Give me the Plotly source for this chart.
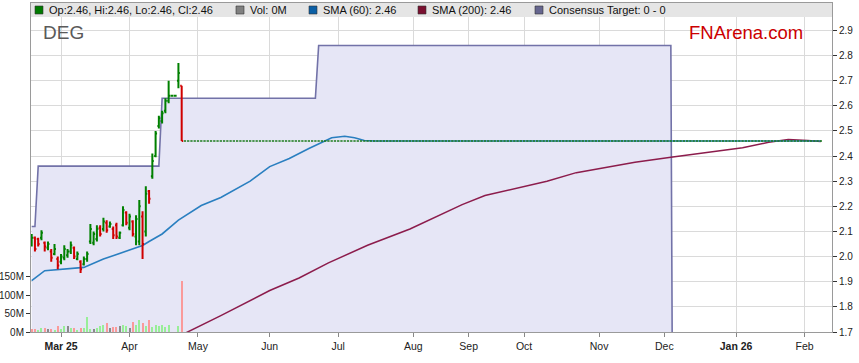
import pandas as pd
import plotly.graph_objects as go

# ---------------- data ----------------
# days with no data point on the chart's time axis (besides weekends)
missing_days = ['2025-04-25', '2025-08-11', '2025-08-12', '2025-08-13', '2025-08-14',
                '2025-09-15', '2025-09-16', '2025-09-17', '2025-09-18', '2025-09-19',
                '2025-12-25', '2026-01-26']

bar_dates = [d.strftime('%Y-%m-%d') for d in pd.bdate_range('2025-02-18', '2025-04-23')]
bar_open = [2.055, 2.075, 2.07, 2.075, 2.055, 2.035, 2.02, 2.01, 1.99, 1.98,
            1.995, 2.005, 2.02, 2.035, 1.99, 1.98, 1.97, 1.99, 2.06, 2.055,
            2.07, 2.115, 2.11, 2.135, 2.12, 2.11, 2.125, 2.075, 2.125, 2.175,
            2.115, 2.14, 2.08, 2.06, 2.16, 2.10, 2.26, 2.32, 2.40, 2.52,
            2.54, 2.58, 2.62, 2.64, 2.64, 2.70, 2.68]
bar_high = [2.09, 2.08, 2.075, 2.105, 2.06, 2.06, 2.03, 2.05, 2.00, 2.01,
            2.045, 2.03, 2.06, 2.04, 2.02, 1.985, 2.00, 2.02, 2.13, 2.10,
            2.125, 2.125, 2.155, 2.145, 2.14, 2.12, 2.135, 2.10, 2.20, 2.18,
            2.17, 2.145, 2.165, 2.225, 2.18, 2.28, 2.265, 2.41, 2.50, 2.56,
            2.58, 2.63, 2.70, 2.64, 2.64, 2.77, 2.68]
bar_low = [2.04, 2.02, 2.04, 2.065, 2.02, 2.025, 1.98, 2.005, 1.95, 1.97,
           1.985, 1.995, 2.01, 1.99, 1.985, 1.935, 1.965, 1.98, 2.05, 2.045,
           2.06, 2.08, 2.10, 2.095, 2.115, 2.07, 2.07, 2.07, 2.12, 2.125,
           2.105, 2.08, 2.045, 2.045, 1.99, 2.08, 2.21, 2.31, 2.395, 2.51,
           2.53, 2.57, 2.61, 2.64, 2.64, 2.67, 2.46]
bar_close = [2.075, 2.03, 2.05, 2.095, 2.04, 2.05, 1.995, 2.03, 1.965, 2.00,
             2.03, 2.02, 2.045, 2.00, 2.01, 1.95, 1.99, 2.01, 2.11, 2.09,
             2.11, 2.09, 2.14, 2.105, 2.13, 2.085, 2.08, 2.095, 2.185, 2.135,
             2.16, 2.09, 2.15, 2.20, 2.05, 2.25, 2.23, 2.38, 2.49, 2.55,
             2.57, 2.62, 2.64, 2.64, 2.64, 2.73, 2.46]

# volume in millions, with bar colour class
vol_m = [7, 7, 4.5, 10, 10, 7, 7, 4, 15, 7,
         15, 15, 10, 10, 5, 10, 12, 40, 7, 7,
         10, 15, 18, 24, 10, 13, 13, 15, 18, 15,
         10, 26, 18, 32, 24, 15, 32, 13, 18, 15,
         18, 13, 20, 0, 0, 15, 139]
vol_dir = ['d', 'd', 'u', 'u', 'd', 'n', 'd', 'u', 'd', 'u',
           'u', 'n', 'u', 'd', 'u', 'd', 'u', 'u', 'u', 'n',
           'u', 'u', 'u', 'd', 'n', 'd', 'd', 'n', 'u', 'u',
           'n', 'd', 'u', 'u', 'd', 'u', 'd', 'u', 'u', 'u',
           'u', 'u', 'u', 'u', 'u', 'u', 'd']

# flat quotes after the last trade
flat_start, flat_end, flat_price = '2025-04-24', '2026-02-09', 2.46

sma60_dates = ['2025-02-18', '2025-02-24', '2025-03-12', '2025-03-17', '2025-03-20',
               '2025-04-01', '2025-04-07', '2025-04-09', '2025-04-15', '2025-04-22',
               '2025-04-29', '2025-05-02', '2025-05-12', '2025-05-23', '2025-06-02',
               '2025-06-10', '2025-06-18', '2025-06-27', '2025-07-03', '2025-07-08',
               '2025-07-11', '2025-07-16', '2026-02-09']
sma60_vals = [1.904, 1.944, 1.957, 1.975, 1.99,
              2.026, 2.044, 2.06, 2.09, 2.145,
              2.178, 2.203, 2.235, 2.30, 2.358,
              2.39, 2.43, 2.473, 2.479, 2.473,
              2.462, 2.46, 2.46]

sma200_dates = ['2025-03-31', '2025-05-12', '2025-06-02', '2025-06-13', '2025-06-26',
                '2025-07-14', '2025-07-31', '2025-08-18', '2025-08-28', '2025-09-08',
                '2025-09-26', '2025-10-10', '2025-10-23', '2025-11-10', '2025-11-18',
                '2025-12-03', '2026-01-05', '2026-01-15', '2026-01-23', '2026-02-03',
                '2026-02-09']
sma200_vals = [1.58, 1.765, 1.865, 1.915, 1.975,
               2.045, 2.11, 2.16, 2.207, 2.243,
               2.27, 2.30, 2.334, 2.36, 2.375,
               2.395, 2.433, 2.455, 2.466, 2.462,
               2.458]

target_dates = ['2025-02-18', '2025-02-19', '2025-02-20', '2025-04-14', '2025-04-15',
                '2025-06-20', '2025-06-23', '2025-12-03', '2025-12-04', '2026-02-09']
target_vals = [2.12, 2.12, 2.36, 2.36, 2.63, 2.63, 2.84, 2.84, 0, 0]

price_ticks = [1.7, 1.8, 1.9, 2.0, 2.1, 2.2, 2.3, 2.4, 2.5, 2.6, 2.7, 2.8, 2.9]
vol_ticks = [0, 50, 100, 150]
month_ticks = ['2025-03-03', '2025-04-01', '2025-05-01', '2025-06-02', '2025-07-01',
               '2025-08-01', '2025-09-01', '2025-10-01', '2025-11-03', '2025-12-01',
               '2026-01-01', '2026-02-02']
month_labels = ['<b>Mar 25</b>', 'Apr', 'May', 'Jun', 'Jul', 'Aug', 'Sep', 'Oct', 'Nov',
                'Dec', '<b>Jan 26</b>', 'Feb']

legend_items = [('Op:2.46, Hi:2.46, Lo:2.46, Cl:2.46', '#007a00', 35),
                ('Vol: 0M', '#808080', 236),
                ('SMA (60): 2.46', '#0b5fa5', 309),
                ('SMA (200): 2.46', '#7a1030', 418),
                ('Consensus Target: 0 - 0', '#66668f', 535)]

# ---------------- figure ----------------
W, H = 859, 363
ML, MR, MT, MB = 31, 27, 3, 31
PW, PH = W - ML - MR, H - MT - MB
PRICE_RANGE = [1.7, 3.009]
FONT = 'Liberation Sans, Arial, sans-serif'

missing_set = set(missing_days)
flat_dates = [d.strftime('%Y-%m-%d') for d in pd.bdate_range(flat_start, flat_end)
              if d.strftime('%Y-%m-%d') not in missing_set]
vol_colors = {'u': '#98ee98', 'd': '#fa9a9a', 'n': '#8a8a8a'}

fig = go.Figure()

# consensus target area on the base price axis (drawn underneath)
fig.add_trace(go.Scatter(x=target_dates, y=target_vals, mode='lines',
                         line=dict(color='#7272a8', width=1.6),
                         fill='tozeroy', fillcolor='#e6e6f6', yaxis='y'))
# volume on the left axis
fig.add_trace(go.Bar(x=bar_dates, y=[v * 1e6 for v in vol_m],
                     marker=dict(color=[vol_colors[c] for c in vol_dir], line=dict(width=0)),
                     width=0.62 * 86400000, yaxis='y2'))
# moving averages on an overlaid copy of the price axis
fig.add_trace(go.Scatter(x=sma200_dates, y=sma200_vals, mode='lines',
                         line=dict(color='#8c1c4c', width=1.5), yaxis='y3'))
fig.add_trace(go.Scatter(x=sma60_dates, y=sma60_vals, mode='lines',
                         line=dict(color='#2a7fc0', width=1.6), yaxis='y3'))
# price bars on the top-most copy of the price axis
fig.add_trace(go.Ohlc(x=flat_dates, open=[flat_price] * len(flat_dates),
                      high=[flat_price] * len(flat_dates), low=[flat_price] * len(flat_dates),
                      close=[flat_price] * len(flat_dates), tickwidth=0.35,
                      increasing=dict(line=dict(color='#1a7a1a', width=1.6)),
                      decreasing=dict(line=dict(color='#1a7a1a', width=1.6)), yaxis='y4'))
fig.add_trace(go.Ohlc(x=bar_dates, open=bar_open, high=bar_high, low=bar_low, close=bar_close,
                      tickwidth=0.45,
                      increasing=dict(line=dict(color='#008000', width=2)),
                      decreasing=dict(line=dict(color='#d00000', width=2)), yaxis='y4'))

tick_font = dict(family=FONT, size=10, color='#222222')
hidden_price = dict(range=PRICE_RANGE, overlaying='y', side='right', visible=False,
                    showgrid=False, zeroline=False, automargin=False)

fig.update_layout(
    width=W, height=H, margin=dict(l=ML, r=MR, t=MT, b=MB, autoexpand=False),
    paper_bgcolor='white', plot_bgcolor='white', showlegend=False,
    font=dict(family=FONT, size=11, color='#222222'), bargap=0,
    xaxis=dict(type='date', range=['2025-02-17 19:00', '2026-02-12 10:00'],
               rangebreaks=[dict(bounds=['sat', 'mon']), dict(values=missing_days)],
               rangeslider=dict(visible=False), automargin=False,
               tickmode='array', tickvals=month_ticks, ticktext=month_labels,
               showgrid=True, gridcolor='#dadada', gridwidth=1,
               ticks='outside', ticklen=4, tickcolor='#888888',
               showline=True, linecolor='#9a9a9a', linewidth=1, mirror=True,
               tickfont=dict(family=FONT, size=10.5, color='#222222')),
    yaxis=dict(range=PRICE_RANGE, side='right', tickmode='array', tickvals=price_ticks,
               ticktext=[f'{v:.1f}' for v in price_ticks], automargin=False,
               showgrid=True, gridcolor='#dadada', gridwidth=1, zeroline=False,
               ticks='outside', ticklen=4, tickcolor='#333333',
               showline=True, linecolor='#9a9a9a', linewidth=1, mirror=True,
               tickfont=tick_font),
    yaxis2=dict(range=[0, 890e6], overlaying='y', side='left', tickmode='array',
                tickvals=[v * 1e6 for v in vol_ticks], ticktext=[f'{v}M' for v in vol_ticks],
                showgrid=False, zeroline=False, showline=False, automargin=False,
                ticks='outside', ticklen=4, tickcolor='#333333', tickfont=tick_font),
    yaxis3=hidden_price,
    yaxis4=hidden_price,
)

def px_x(p):
    return (p - ML) / PW

def px_y(p):
    return 1 - (p - MT) / PH

# legend band
fig.add_shape(type='rect', xref='paper', yref='paper', x0=0, x1=1,
              y0=px_y(17), y1=1, fillcolor='#e5e5e5', line=dict(width=0), layer='above')
for text, col, sx in legend_items:
    fig.add_shape(type='rect', xref='paper', yref='paper',
                  x0=px_x(sx), x1=px_x(sx + 8), y0=px_y(14), y1=px_y(6),
                  fillcolor=col, line=dict(color='#333333', width=0.6), layer='above')
    fig.add_annotation(x=px_x(sx + 11.5), y=px_y(10.5), xref='paper', yref='paper',
                       text=text, showarrow=False, xanchor='left', yanchor='middle',
                       font=dict(family=FONT, size=11, color='#111111'))

fig.add_annotation(x=px_x(41), y=px_y(32.5), xref='paper', yref='paper', text='DEG',
                   showarrow=False, xanchor='left', yanchor='middle',
                   font=dict(family=FONT, size=19, color='#5a5a5a'))
fig.add_annotation(x=px_x(687), y=px_y(33), xref='paper', yref='paper', text='FNArena.com',
                   showarrow=False, xanchor='left', yanchor='middle',
                   font=dict(family=FONT, size=18.5, color='#cc0000'))

fig.write_html('out.html', config={'displayModeBar': False},
               post_script="document.body.style.margin='0';document.body.style.padding='0';")
